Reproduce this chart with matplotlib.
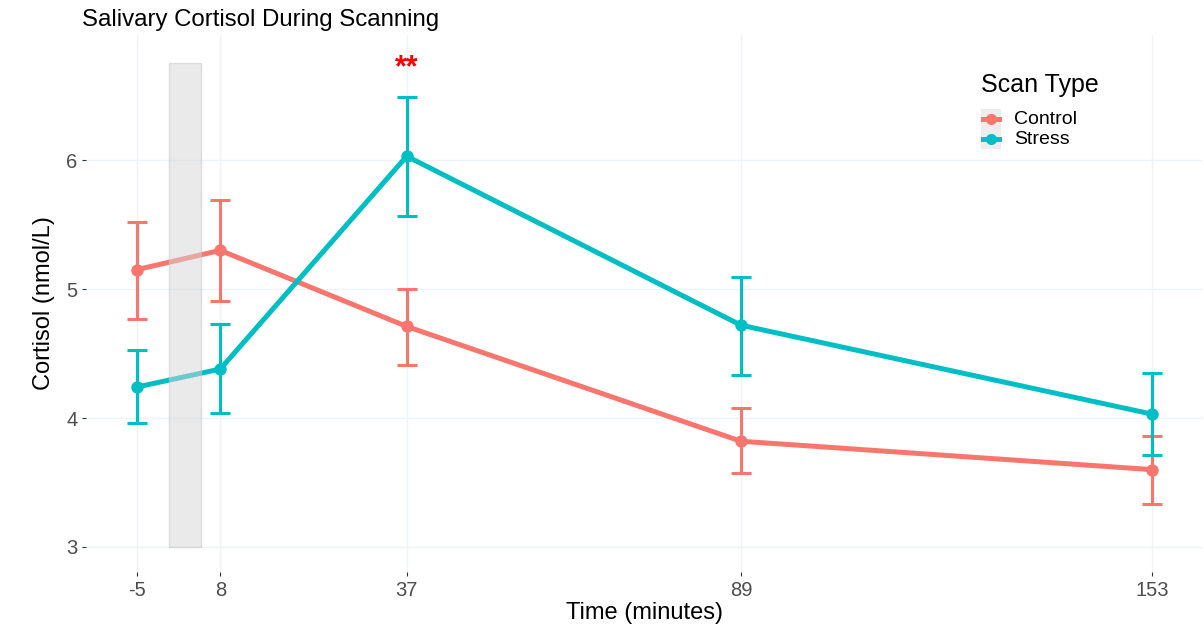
import matplotlib
matplotlib.use("Agg")
import matplotlib.pyplot as plt
from matplotlib.patches import Rectangle
from matplotlib.lines import Line2D

time = [-5, 8, 37, 89, 153]
control_mean = [5.15, 5.30, 4.71, 3.82, 3.60]
control_upper = [5.52, 5.69, 5.00, 4.08, 3.86]
control_lower = [4.77, 4.91, 4.41, 3.57, 3.33]
stress_mean = [4.24, 4.38, 6.03, 4.72, 4.03]
stress_upper = [4.53, 4.73, 6.49, 5.09, 4.35]
stress_lower = [3.96, 4.04, 5.57, 4.33, 3.71]
scan_window = (0, 5, 3.0, 6.75)
sig_x, sig_y, sig_label = 37, 6.715, "**"

colors = {"Control": "#F8766D", "Stress": "#00BFC4"}
grid_c = "#EEF3FA"

plt.rcParams['font.family'] = ['Liberation Sans', 'DejaVu Sans']
fig = plt.figure(figsize=(12.04, 6.24), dpi=100)
ax = fig.add_axes([86/1204, 1-571.5/624, (1203-86)/1204, (571.5-35)/624])

series = [("Control", control_mean, control_upper, control_lower),
          ("Stress", stress_mean, stress_upper, stress_lower)]
for name, m, up, lo in series:
    c = colors[name]
    ax.plot(time, m, color=c, lw=3.6, zorder=3, solid_capstyle='butt')
    ax.scatter(time, m, s=80, color=c, zorder=4, linewidths=0)
    yerr = [[mm - l for mm, l in zip(m, lo)], [u - mm for mm, u in zip(m, up)]]
    ax.errorbar(time, m, yerr=yerr, fmt='none', ecolor=c, elinewidth=2.2,
                capsize=7, capthick=2.2, zorder=3)

x0, x1, y0, y1 = scan_window
ax.add_patch(Rectangle((x0, y0), x1 - x0, y1 - y0, facecolor='#d6d6d6',
                       edgecolor='#c4c4c4', alpha=0.5, lw=1, zorder=5))

ax.text(sig_x, sig_y, sig_label, color='red', fontsize=22, fontweight='bold',
        ha='center', va='center', zorder=6)

ax.set_xlim(-12.9, 160.9)
ax.set_ylim(2.81, 6.97)
ax.set_xticks(time)
ax.set_xticklabels([str(t) for t in time])
ax.set_yticks([3, 4, 5, 6])
ax.grid(True, color=grid_c, lw=1)
ax.set_axisbelow(True)
for s in ax.spines.values():
    s.set_visible(False)
ax.tick_params(axis='both', colors='#333333', labelsize=14.5, length=3,
               width=0.8, color='#333333')
ax.tick_params(axis='x', pad=4)
ax.tick_params(axis='y', pad=3)
for lab in ax.get_xticklabels() + ax.get_yticklabels():
    lab.set_color('#4d4d4d')

ax.set_xlabel("Time (minutes)", fontsize=17, labelpad=1)
ax.set_ylabel("Cortisol (nmol/L)", fontsize=17, labelpad=8)
fig.text(82/1204, 1-20/624, "Salivary Cortisol During Scanning", fontsize=17.3,
         ha='left', va='center')

# legend
fig.text(981/1204, 1-85/624, "Scan Type", fontsize=18, ha='left', va='center')
for i, name in enumerate(["Control", "Stress"]):
    yy = 119 + i * 20
    fig.patches.append(Rectangle((981/1204, 1-(yy+10)/624), 20/1204, 20/624,
                                 transform=fig.transFigure, facecolor='#ededed',
                                 edgecolor='none', zorder=1))
    fig.lines.append(Line2D([983/1204, 999/1204], [1-yy/624, 1-yy/624],
                            transform=fig.transFigure, color=colors[name], lw=3.6, zorder=2))
    fig.lines.append(Line2D([991/1204], [1-yy/624], transform=fig.transFigure,
                            marker='o', markersize=8, markeredgewidth=0,
                            color=colors[name], zorder=3))
    fig.text(1014/1204, 1-yy/624, name, fontsize=14, ha='left', va='center')

fig.savefig("out.png", dpi=100)
